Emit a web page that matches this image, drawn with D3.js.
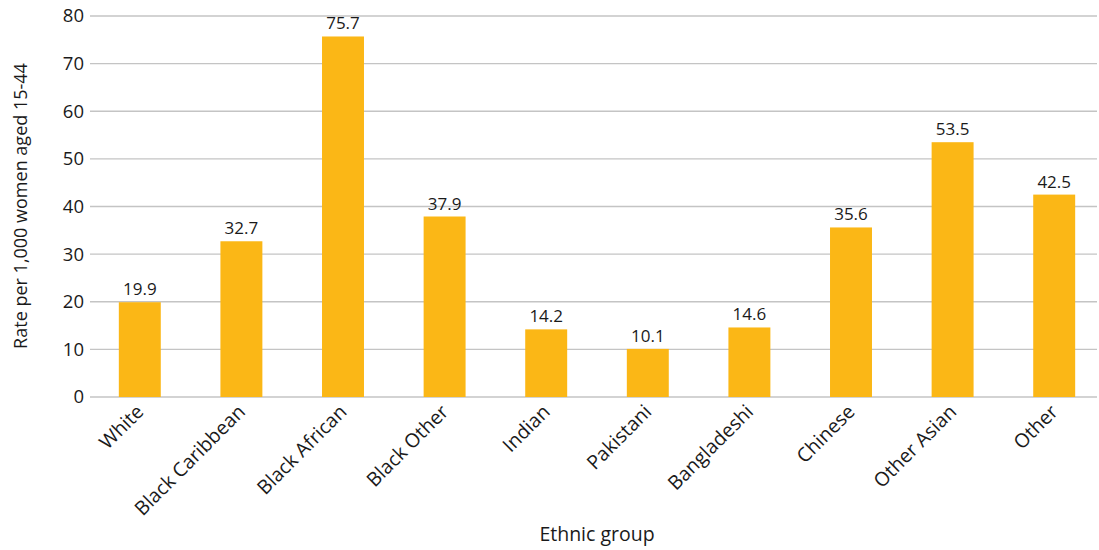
<!DOCTYPE html>
<html><head><meta charset="utf-8">
<script src="https://cdn.jsdelivr.net/npm/d3@7"></script>
<style>body{margin:0;background:#fff}text{font-family:"Open Sans","Noto Sans",sans-serif;fill:#1a1a1a}</style>
</head><body><svg id="c" width="1099" height="550"></svg>
<script>
const categories = ["White","Black Caribbean","Black African","Black Other","Indian","Pakistani","Bangladeshi","Chinese","Other Asian","Other"];
const values = [19.9,32.7,75.7,37.9,14.2,10.1,14.6,35.6,53.5,42.5];
const yTicks = [0,10,20,30,40,50,60,70,80];
const xTitle = "Ethnic group";
const yTitle = "Rate per 1,000 women aged 15-44";

const svg = d3.select("#c");
const x = d3.scaleBand().domain(categories).range([89, 1105]).paddingInner(0.587).paddingOuter(0.2935);
const y = d3.scaleLinear().domain([0, 80]).range([397, 16]);

svg.append("g").selectAll("line").data(yTicks).join("line")
  .attr("x1", 90).attr("x2", 1097)
  .attr("y1", d => y(d)).attr("y2", d => y(d))
  .attr("stroke", "#c4c4c4").attr("stroke-width", 1.3);

svg.append("g").selectAll("text").data(yTicks).join("text")
  .attr("x", 84).attr("y", d => y(d)).attr("dy", "0.35em")
  .attr("text-anchor", "end").attr("font-size", 18.5).text(d => d);

svg.append("g").selectAll("rect").data(values).join("rect")
  .attr("x", (d, i) => x(categories[i])).attr("width", x.bandwidth())
  .attr("y", d => y(d)).attr("height", d => y(0) - y(d))
  .attr("fill", "#fbb716");

svg.append("g").selectAll("text").data(values).join("text")
  .attr("x", (d, i) => x(categories[i]) + x.bandwidth() / 2)
  .attr("y", d => y(d) - 7).attr("text-anchor", "middle")
  .attr("font-size", 17).text(d => d.toFixed(1));

svg.append("g").selectAll("text").data(categories).join("text")
  .attr("transform", d => `translate(${x(d) + x.bandwidth() / 2 + 5},${413}) rotate(-45)`)
  .attr("text-anchor", "end").attr("font-size", 19.5).text(d => d);

svg.append("text").attr("x", 597).attr("y", 541).attr("text-anchor", "middle")
  .attr("font-size", 19.5).text(xTitle);
svg.append("text").attr("transform", "translate(27,206) rotate(-90)")
  .attr("text-anchor", "middle").attr("font-size", 18).text(yTitle);
</script></body></html>
